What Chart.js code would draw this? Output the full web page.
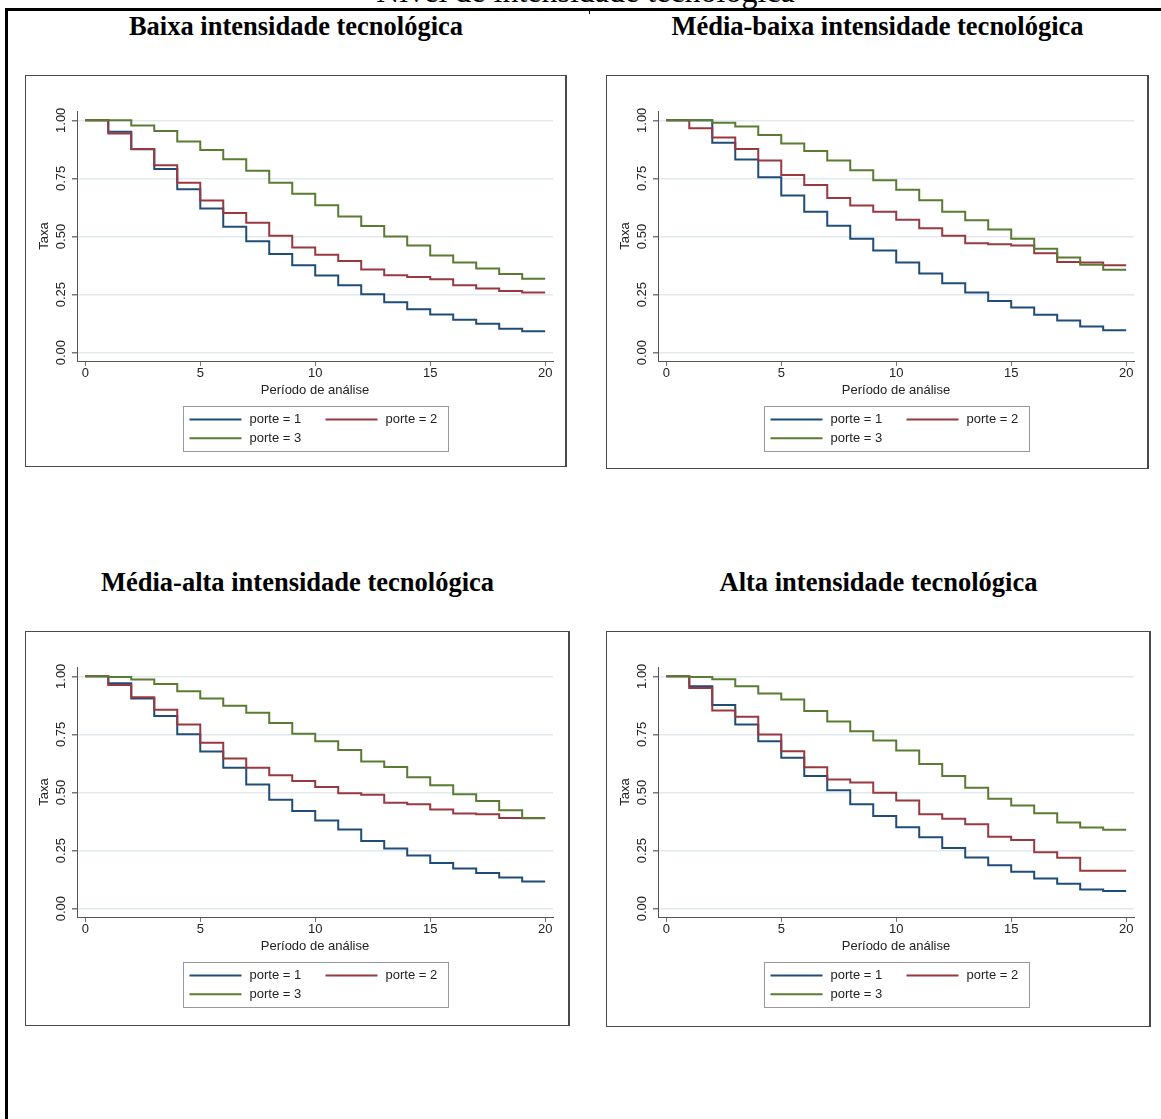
<!DOCTYPE html>
<html lang="pt">
<head>
<meta charset="utf-8">
<script src="https://cdn.jsdelivr.net/npm/chart.js@4.4.0/dist/chart.umd.min.js"></script>
<style>
  body { margin: 0; background: #fff; width: 1161px; height: 1119px; overflow: hidden; position: relative; }
  .frame { position: absolute; left: 5px; top: 8px; width: 1300px; height: 1300px; border-left: 3px solid #000; border-top: 3px solid #000; }
  .divider { position: absolute; left: 589px; top: 11px; width: 1px; height: 3px; background: #000; }
  .top-title { position: absolute; left: 5px; width: 1161px; top: -25px; text-align: center; font: 32px "Liberation Serif", serif; line-height: 32px; color: #000; white-space: nowrap; }
  .ptitle { position: absolute; font: bold 26.5px "Liberation Serif", serif; line-height: 26px; text-align: center; color: #000; white-space: nowrap; }
  .panel { position: absolute; box-sizing: border-box; border: 1px solid #4a4a4a; border-right-width: 2px; pointer-events: none; }
  canvas { position: absolute; }
</style>
</head>
<body>
<div class="top-title">Nível de intensidade tecnológica</div>
<div class="frame"></div>
<div class="divider"></div>

<div class="ptitle" style="left:25px; width:542px; top:13px;">Baixa intensidade tecnológica</div>
<div class="ptitle" style="left:606px; width:543px; top:13px;">Média-baixa intensidade tecnológica</div>
<div class="ptitle" style="left:25px; width:545px; top:569px;">Média-alta intensidade tecnológica</div>
<div class="ptitle" style="left:606px; width:545px; top:569px;">Alta intensidade tecnológica</div>

<canvas id="c1" width="542" height="392" style="left:25px; top:75px;"></canvas>
<canvas id="c2" width="543" height="394" style="left:606px; top:75px;"></canvas>
<canvas id="c3" width="545" height="395" style="left:25px; top:631px;"></canvas>
<canvas id="c4" width="545" height="396" style="left:606px; top:631px;"></canvas>
<div class="panel" style="left:25px; top:75px; width:542px; height:392px;"></div>
<div class="panel" style="left:606px; top:75px; width:543px; height:394px;"></div>
<div class="panel" style="left:25px; top:631px; width:545px; height:395px;"></div>
<div class="panel" style="left:606px; top:631px; width:545px; height:396px;"></div>

<script>
const periods = [0, 1, 2, 3, 4, 5, 6, 7, 8, 9, 10, 11, 12, 13, 14, 15, 16, 17, 18, 19, 20];
const xTicks = [0, 5, 10, 15, 20];
const yTicks = [0, 0.25, 0.5, 0.75, 1];
const seriesLabels = ['porte = 1', 'porte = 2', 'porte = 3'];
const seriesColors = ['#1f4d78', '#9a3840', '#5a7c32'];

// Baixa intensidade tecnológica
const baixaPorte1 = [1.00, 0.951, 0.875, 0.790, 0.703, 0.621, 0.542, 0.480, 0.425, 0.376, 0.332, 0.290, 0.251, 0.217, 0.187, 0.164, 0.142, 0.125, 0.103, 0.092, 0.092];
const baixaPorte2 = [1.00, 0.943, 0.876, 0.807, 0.731, 0.655, 0.601, 0.559, 0.503, 0.453, 0.421, 0.395, 0.358, 0.333, 0.326, 0.316, 0.290, 0.276, 0.266, 0.259, 0.259];
const baixaPorte3 = [1.00, 1.00, 0.978, 0.954, 0.909, 0.872, 0.832, 0.783, 0.731, 0.684, 0.634, 0.586, 0.545, 0.500, 0.461, 0.418, 0.388, 0.362, 0.339, 0.318, 0.318];

// Média-baixa intensidade tecnológica
const mediaBaixaPorte1 = [1.00, 1.00, 0.903, 0.831, 0.755, 0.676, 0.607, 0.546, 0.490, 0.440, 0.388, 0.341, 0.299, 0.259, 0.223, 0.195, 0.163, 0.139, 0.113, 0.097, 0.097];
const mediaBaixaPorte2 = [1.00, 0.966, 0.926, 0.877, 0.827, 0.765, 0.722, 0.666, 0.633, 0.607, 0.572, 0.536, 0.503, 0.471, 0.467, 0.461, 0.428, 0.390, 0.388, 0.376, 0.376];
const mediaBaixaPorte3 = [1.00, 1.00, 0.989, 0.973, 0.937, 0.900, 0.868, 0.827, 0.785, 0.742, 0.701, 0.656, 0.607, 0.570, 0.530, 0.490, 0.447, 0.410, 0.378, 0.357, 0.357];

// Média-alta intensidade tecnológica
const mediaAltaPorte1 = [1.00, 0.970, 0.904, 0.829, 0.751, 0.676, 0.607, 0.534, 0.469, 0.420, 0.379, 0.341, 0.291, 0.259, 0.229, 0.197, 0.173, 0.154, 0.134, 0.117, 0.117];
const mediaAltaPorte2 = [1.00, 0.963, 0.910, 0.856, 0.793, 0.714, 0.646, 0.607, 0.574, 0.549, 0.524, 0.497, 0.490, 0.456, 0.449, 0.427, 0.410, 0.406, 0.390, 0.389, 0.389];
const mediaAltaPorte3 = [1.00, 0.997, 0.986, 0.967, 0.936, 0.904, 0.873, 0.843, 0.799, 0.753, 0.720, 0.683, 0.633, 0.610, 0.566, 0.531, 0.493, 0.463, 0.424, 0.390, 0.390];

// Alta intensidade tecnológica
const altaPorte1 = [1.00, 0.957, 0.877, 0.793, 0.720, 0.649, 0.571, 0.510, 0.449, 0.399, 0.350, 0.307, 0.261, 0.220, 0.187, 0.159, 0.130, 0.107, 0.083, 0.076, 0.076];
const altaPorte2 = [1.00, 0.950, 0.853, 0.826, 0.750, 0.677, 0.609, 0.556, 0.543, 0.499, 0.466, 0.406, 0.387, 0.363, 0.310, 0.296, 0.243, 0.219, 0.163, 0.163, 0.163];
const altaPorte3 = [1.00, 0.997, 0.987, 0.957, 0.926, 0.900, 0.851, 0.806, 0.764, 0.724, 0.681, 0.623, 0.571, 0.520, 0.473, 0.444, 0.411, 0.371, 0.349, 0.340, 0.340];

const tickFont = { family: '"Liberation Sans", Arial, sans-serif', size: 13 };
const textColor = '#222';

// stata-style legend box under the plot
const legendBox = {
  id: 'legendBox',
  afterDraw(chart) {
    const { ctx, chartArea } = chart;
    const w = 265, h = 45;
    const left = Math.round((chartArea.left + chartArea.right) / 2 - w / 2) + 0.5;
    const top = Math.round(chartArea.bottom + 45) + 0.5;
    ctx.save();
    ctx.strokeStyle = '#999';
    ctx.lineWidth = 1;
    ctx.strokeRect(left, top, w, h);
    ctx.font = '13px "Liberation Sans", Arial, sans-serif';
    ctx.fillStyle = textColor;
    ctx.textBaseline = 'middle';
    chart.data.datasets.forEach((ds, i) => {
      const col = i % 2, row = Math.floor(i / 2);
      const sx = left + 6 + col * 136;
      const sy = top + 13 + row * 18.7;
      ctx.strokeStyle = ds.borderColor;
      ctx.lineWidth = 2;
      ctx.beginPath();
      ctx.moveTo(sx, sy);
      ctx.lineTo(sx + 52, sy);
      ctx.stroke();
      ctx.fillText(ds.label, sx + 60, sy);
    });
    ctx.restore();
  }
};

function makeChart(id, series) {
  const canvas = document.getElementById(id);
  new Chart(canvas, {
    type: 'line',
    data: {
      datasets: series.map((vals, i) => ({
        label: seriesLabels[i],
        data: periods.map((p, j) => ({ x: p, y: vals[j] })),
        borderColor: seriesColors[i],
        borderWidth: 2,
        pointRadius: 0,
        stepped: true,
        fill: false,
        order: series.length - i   // porte 3 drawn last, on top
      }))
    },
    options: {
      responsive: false,
      animation: false,
      layout: { padding: { top: 36, right: canvas.width - 528, bottom: canvas.height - 323, left: 0 } },
      plugins: { legend: { display: false }, tooltip: { enabled: false } },
      scales: {
        x: {
          type: 'linear',
          min: -0.36,
          max: 20.34,
          afterBuildTicks: s => { s.ticks = xTicks.map(v => ({ value: v })); },
          afterFit: s => { s.height = 37; },
          grid: { drawOnChartArea: false, tickLength: 5, tickColor: '#777' },
          border: { color: '#555' },
          ticks: { font: tickFont, color: textColor, padding: 0, maxRotation: 0 },
          title: { display: true, text: 'Período de análise', font: tickFont, color: textColor, padding: 0 }
        },
        y: {
          min: -0.0357,
          max: 1.04,
          afterBuildTicks: s => { s.ticks = yTicks.map(v => ({ value: v })); },
          afterFit: s => { s.width = 52; },
          grid: { color: '#e3eaee', lineWidth: 1.5, tickLength: 5, tickColor: '#777' },
          border: { color: '#555' },
          ticks: {
            font: tickFont, color: textColor, minRotation: 90, maxRotation: 90,
            crossAlign: 'center', padding: -2,
            callback: v => v.toFixed(2)
          },
          title: { display: true, text: 'Taxa', font: tickFont, color: textColor, padding: { top: 12, bottom: 0 } }
        }
      }
    },
    plugins: [legendBox]
  });
}

makeChart('c1', [baixaPorte1, baixaPorte2, baixaPorte3]);
makeChart('c2', [mediaBaixaPorte1, mediaBaixaPorte2, mediaBaixaPorte3]);
makeChart('c3', [mediaAltaPorte1, mediaAltaPorte2, mediaAltaPorte3]);
makeChart('c4', [altaPorte1, altaPorte2, altaPorte3]);
</script>
</body>
</html>
